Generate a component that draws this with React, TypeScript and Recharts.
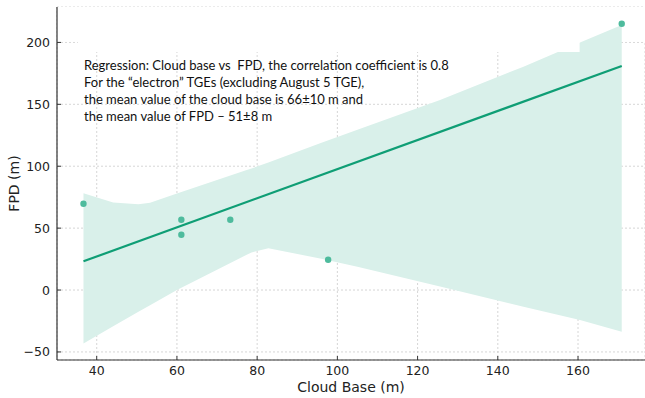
import React from 'react';
import {
  ComposedChart,
  Area,
  Line,
  Scatter,
  XAxis,
  YAxis,
  CartesianGrid,
  ReferenceArea,
  Label,
} from 'recharts';

// measured points (Cloud base, FPD)
const pointX = [36.7, 61.1, 61.1, 73.3, 97.7, 170.9];
const pointY = [69.7, 56.8, 44.7, 56.8, 24.5, 215.1];

// regression line ends
const fitX = [36.7, 170.9];
const fitY = [23.2, 181.0];

// confidence band
const bandX = [36.7, 44.1, 50.4, 53.3, 60, 77.4, 78.6, 82.8, 95.7, 105, 125.6, 146.4, 160.5, 170.9];
const bandHigh = [78.1, 70.8, 69.2, 70.5, 77.9, 96.9, 98.2, 103, 118.5, 129.5, 153.5, 180.4, 200, 214];
const bandLow = [-43.1, -29.3, -17.6, -12.2, 0, 28.5, 30.4, 33.7, 25.5, 18.8, 2.8, -13.4, -24.2, -33.7];

const xTicks = [40, 60, 80, 100, 120, 140, 160];
const yTicks = [-50, 0, 50, 100, 150, 200];

const noteLines = [
  'Regression: Cloud base vs  FPD, the correlation coefficient is 0.8',
  'For the \u201celectron\u201d TGEs (excluding August 5 TGE),',
  'the mean value of the cloud base is 66\u00b110 m and',
  'the mean value of FPD \u2013 51\u00b18 m',
];

const points = pointX.map((x, i) => ({ x, y: pointY[i] }));
const fit = fitX.map((x, i) => ({ x, y: fitY[i] }));
const band = bandX.map((x, i) => ({ x, range: [bandLow[i], bandHigh[i]] }));

const GREEN = '#0f9e75';
const AXIS = '#333333';
const FONT = 'DejaVu Sans';

const fmt = (v: number) => (v < 0 ? '\u2212' + Math.abs(v) : String(v));

const XTick = (props: any) => {
  const { x, y, payload } = props;
  return (
    <g>
      <line x1={x} y1={y} x2={x} y2={y - 4} stroke={AXIS} strokeWidth={1} />
      <text x={x} y={y + 15} textAnchor="middle" fontSize={12.5} fontFamily={FONT} fill="#222">
        {fmt(payload.value)}
      </text>
    </g>
  );
};

const YTick = (props: any) => {
  const { x, y, payload } = props;
  return (
    <g>
      <line x1={x} y1={y} x2={x + 4} y2={y} stroke={AXIS} strokeWidth={1} />
      <text x={x - 7} y={y + 4.5} textAnchor="end" fontSize={12.5} fontFamily={FONT} fill="#222">
        {fmt(payload.value)}
      </text>
    </g>
  );
};

const Dot = (props: any) => <circle cx={props.cx} cy={props.cy} r={3.2} fill="#4ebb9d" />;

export default function App() {
  return (
    <div style={{ position: 'absolute', left: 0, top: 0, width: 645, height: 398, background: '#fff' }}>
      <style>{'html,body{margin:0;padding:0;overflow:hidden}'}</style>
      <ComposedChart
        width={645}
        height={398}
        margin={{ top: 7, right: 0, bottom: 0, left: 0 }}
        style={{ fontFamily: FONT }}
      >
        <CartesianGrid stroke="#cccccc" strokeDasharray="2 2" strokeWidth={0.8} />
        <XAxis
          type="number"
          dataKey="x"
          domain={[30.1, 176.7]}
          ticks={xTicks}
          allowDataOverflow
          height={38}
          tickSize={0}
          tickMargin={0}
          tickLine={false}
          tick={<XTick />}
          axisLine={{ stroke: AXIS, strokeWidth: 1.2 }}
        >
          <Label value="Cloud Base (m)" position="center" dy={8} fontSize={14} fontFamily={FONT} fill="#222" />
        </XAxis>
        <YAxis
          type="number"
          domain={[-56.5, 228.6]}
          ticks={yTicks}
          allowDataOverflow
          width={57}
          tickSize={0}
          tickMargin={0}
          tickLine={false}
          tick={<YTick />}
          axisLine={{ stroke: AXIS, strokeWidth: 1.2 }}
        >
          <Label value="FPD (m)" position="center" angle={-90} dx={-14} fontSize={14} fontFamily={FONT} fill="#222" />
        </YAxis>
        <ReferenceArea x1={30.1} x2={176.7} y1={200.6} y2={228.6} fill="#ffffff" fillOpacity={1} stroke="none" zIndex={50} />
        <Area
          data={band}
          dataKey="range"
          type="linear"
          stroke="none"
          fill="#d9f0ea"
          fillOpacity={1}
          isAnimationActive={false}
          activeDot={false}
        />
        <ReferenceArea x1={35.3} x2={160.4} y1={192.2} y2={228.6} fill="#ffffff" fillOpacity={1} stroke="none" zIndex={150} />
        <Line
          data={fit}
          dataKey="y"
          type="linear"
          stroke={GREEN}
          strokeWidth={2.2}
          dot={false}
          activeDot={false}
          isAnimationActive={false}
        />
        <Scatter data={points} dataKey="y" shape={<Dot />} isAnimationActive={false} />
      </ComposedChart>
      <div
        style={{
          position: 'absolute',
          left: 84,
          top: 57,
          fontFamily: 'Lato, sans-serif',
          fontSize: 13,
          lineHeight: '17px',
          color: '#111',
          whiteSpace: 'pre',
        }}
      >
        {noteLines.map((t) => (
          <div key={t}>{t}</div>
        ))}
      </div>
    </div>
  );
}
